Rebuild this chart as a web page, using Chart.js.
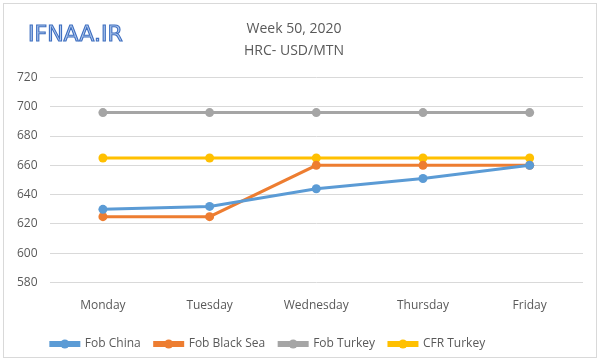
<!DOCTYPE html>
<html>
<head>
<meta charset="utf-8">
<script src="https://cdn.jsdelivr.net/npm/chart.js@4"></script>
<style>
  html, body { margin: 0; padding: 0; background: #fff; }
  #wrap { position: absolute; left: 3px; top: 3px; width: 592px; height: 353px; border: 1px solid #d9d9d9; }
</style>
</head>
<body>
<div id="wrap"><canvas id="chart" width="592" height="353"></canvas></div>
<script>
const days = ["Monday", "Tuesday", "Wednesday", "Thursday", "Friday"];
const fobChina = [630, 632, 644, 651, 660];
const fobBlackSea = [625, 625, 660, 660, 660];
const fobTurkey = [696, 696, 696, 696, 696];
const cfrTurkey = [665, 665, 665, 665, 665];
const titleLines = ["Week 50, 2020", "HRC- USD/MTN"];

const textColor = "#595959";
const fontFamily = "'Open Sans', 'Liberation Sans', sans-serif";

const makeSet = (label, data, color) => ({
  label,
  data,
  borderColor: color,
  backgroundColor: color,
  borderWidth: 3,
  pointRadius: 4.5,
  pointHoverRadius: 4.5,
  pointBackgroundColor: color,
  pointBorderWidth: 0,
  tension: 0,
});

// logo text top-left, legend nudged left, circles on legend lines
const extras = {
  id: "extras",
  afterLayout(chart) {
    const lg = chart.legend;
    lg.left -= 26;
    lg.right -= 26;
  },
  afterDraw(chart) {
    const ctx = chart.ctx;
    ctx.save();
    ctx.font = "22px 'DejaVu Sans', sans-serif";
    ctx.textBaseline = "middle";
    ctx.lineWidth = 1.1;
    ctx.strokeStyle = "#3f6fc0";
    ctx.fillStyle = "#b4cbee";
    ctx.fillText("IFNAA.IR", 24, 31);
    ctx.strokeText("IFNAA.IR", 24, 31);

    const lg = chart.legend;
    lg.legendHitBoxes.forEach((box, i) => {
      const item = lg.legendItems[i];
      ctx.fillStyle = item.strokeStyle;
      ctx.beginPath();
      ctx.arc(box.left + 14, box.top + box.height / 2, 4.5, 0, Math.PI * 2);
      ctx.fill();
    });
    ctx.restore();
  },
};

new Chart(document.getElementById("chart"), {
  type: "line",
  data: {
    labels: days,
    datasets: [
      makeSet("Fob China", fobChina, "#5B9BD5"),
      makeSet("Fob Black Sea", fobBlackSea, "#ED7D31"),
      makeSet("Fob Turkey", fobTurkey, "#A5A5A5"),
      makeSet("CFR Turkey", cfrTurkey, "#FFC000"),
    ],
  },
  options: {
    responsive: false,
    animation: false,
    layout: { padding: { left: 1, right: 13, top: 10, bottom: -3 } },
    plugins: {
      title: {
        display: true,
        text: titleLines,
        color: textColor,
        font: { family: fontFamily, size: 14, weight: "normal", lineHeight: 1.55 },
        padding: { top: 4, bottom: 16 },
      },
      legend: {
        position: "bottom",
        labels: {
          color: textColor,
          font: { family: fontFamily, size: 12 },
          boxWidth: 28,
          boxHeight: 3,
          padding: 14,
        },
      },
      tooltip: { enabled: false },
    },
    scales: {
      x: {
        offset: true,
        grid: { display: false },
        border: { display: false },
        ticks: { color: textColor, font: { family: fontFamily, size: 12 }, padding: 8 },
        afterFit(scale) {
          scale.height += 3;
        },
      },
      y: {
        min: 580,
        max: 720,
        ticks: { stepSize: 20, color: textColor, font: { family: fontFamily, size: 12 }, padding: 12 },
        grid: { color: "#d9d9d9", drawTicks: false },
        border: { display: false },
      },
    },
  },
  plugins: [extras],
});
</script>
</body>
</html>
